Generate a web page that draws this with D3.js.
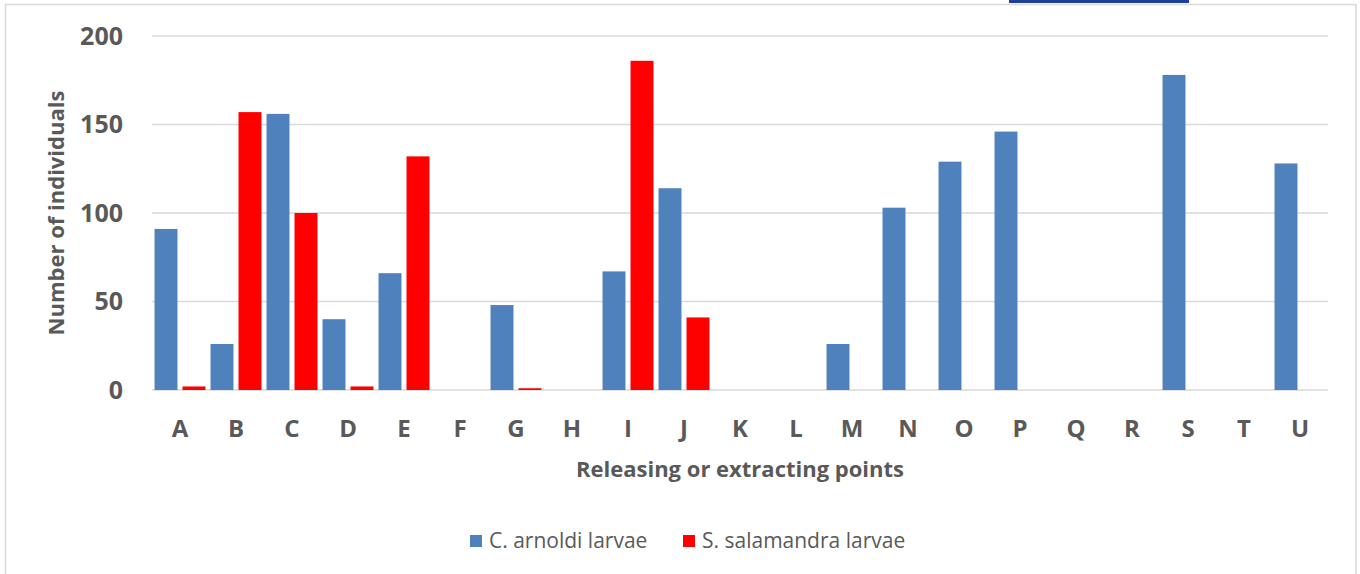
<!DOCTYPE html>
<html>
<head>
<meta charset="utf-8">
<script src="https://cdn.jsdelivr.net/npm/d3@7"></script>
<style>
  html, body { margin: 0; padding: 0; background: #fff; }
  svg { display: block; font-family: "Open Sans", "Noto Sans", sans-serif; }
</style>
</head>
<body>
<svg id="chart" width="1360" height="574"></svg>
<script>
// Sampling points along the stream
const categories = ["A","B","C","D","E","F","G","H","I","J","K","L","M","N","O","P","Q","R","S","T","U"];
// Counted larvae per point
const arnoldi    = [91, 26, 156, 40, 66, 0, 48, 0, 67, 114, 0, 0, 26, 103, 129, 146, 0, 0, 178, 0, 128];
const salamandra = [2, 157, 100, 2, 132, 0, 1, 0, 186, 41, 0, 0, 0, 0, 0, 0, 0, 0, 0, 0, 0];
const seriesNames = ["C. arnoldi larvae", "S. salamandra larvae"];
const seriesColors = ["#4f81bd", "#ff0000"];
const yTicks = [0, 50, 100, 150, 200];

const svg = d3.select("#chart");
const margin = { left: 152, right: 32, top: 36, bottom: 184 };
const W = 1360, H = 574;

// Chart frame
svg.append("rect").attr("x", 5.5).attr("y", 4.5).attr("width", 1350.5).attr("height", 580)
  .attr("fill", "none").attr("stroke", "#d9d9d9").attr("stroke-width", 1.5);
svg.append("rect").attr("x", 1009).attr("y", 0).attr("width", 180).attr("height", 3).attr("fill", "#1f3f99");

const x = d3.scaleBand().domain(categories).range([margin.left, W - margin.right]).paddingInner(0).paddingOuter(0);
const xs = d3.scaleBand().domain([0, 1]).range([0, x.bandwidth()]).paddingInner(0.18).paddingOuter(0.09);
const y = d3.scaleLinear().domain([0, 200]).range([H - margin.bottom, margin.top]);

// Gridlines
svg.append("g").selectAll("line").data(yTicks).join("line")
  .attr("x1", margin.left).attr("x2", W - margin.right)
  .attr("y1", d => y(d)).attr("y2", d => y(d))
  .attr("stroke", "#d9d9d9").attr("stroke-width", 1.5);

// Y axis labels
const yAxis = d3.axisLeft(y).tickValues(yTicks).tickSize(0).tickPadding(0);
svg.append("g").attr("transform", `translate(${margin.left - 29},0)`).call(yAxis)
  .call(g => g.select(".domain").remove())
  .selectAll("text").attr("font-size", 25).attr("font-weight", "bold").attr("fill", "#595959")
  .attr("font-family", "\"Open Sans\", sans-serif");

// X axis labels
const xAxis = d3.axisBottom(x).tickSize(0).tickPadding(0);
svg.append("g").attr("transform", `translate(0,${H - margin.bottom + 30})`).call(xAxis)
  .call(g => g.select(".domain").remove())
  .selectAll("text").attr("font-size", 24).attr("font-weight", "bold").attr("fill", "#595959")
  .attr("font-family", "\"Open Sans\", sans-serif");

// Bars
const rows = categories.map((c, i) => ({ c, v: [arnoldi[i], salamandra[i]] }));
const groups = svg.append("g").selectAll("g").data(rows).join("g")
  .attr("transform", d => `translate(${x(d.c)},0)`);
groups.selectAll("rect").data(d => d.v.map((v, s) => ({ v, s }))).join("rect")
  .attr("x", d => xs(d.s)).attr("width", xs.bandwidth())
  .attr("y", d => y(d.v)).attr("height", d => y(0) - y(d.v))
  .attr("fill", d => seriesColors[d.s]);

// Axis titles
svg.append("text").attr("x", (margin.left + W - margin.right) / 2).attr("y", 477)
  .attr("text-anchor", "middle").attr("font-size", 22).attr("font-weight", "bold").attr("fill", "#595959")
  .text("Releasing or extracting points");
svg.append("text").attr("transform", `translate(64,${y(100)}) rotate(-90)`)
  .attr("text-anchor", "middle").attr("font-size", 22).attr("font-weight", "bold").attr("fill", "#595959")
  .text("Number of individuals");

// Legend
const legendX = [470, 683];
const lg = svg.append("g").selectAll("g").data(seriesNames).join("g")
  .attr("transform", (d, i) => `translate(${legendX[i]},535)`);
lg.append("rect").attr("width", 12).attr("height", 12).attr("fill", (d, i) => seriesColors[i]);
lg.append("text").attr("x", 19).attr("y", 13).attr("font-size", 21).attr("fill", "#595959").text(d => d);
</script>
</body>
</html>
